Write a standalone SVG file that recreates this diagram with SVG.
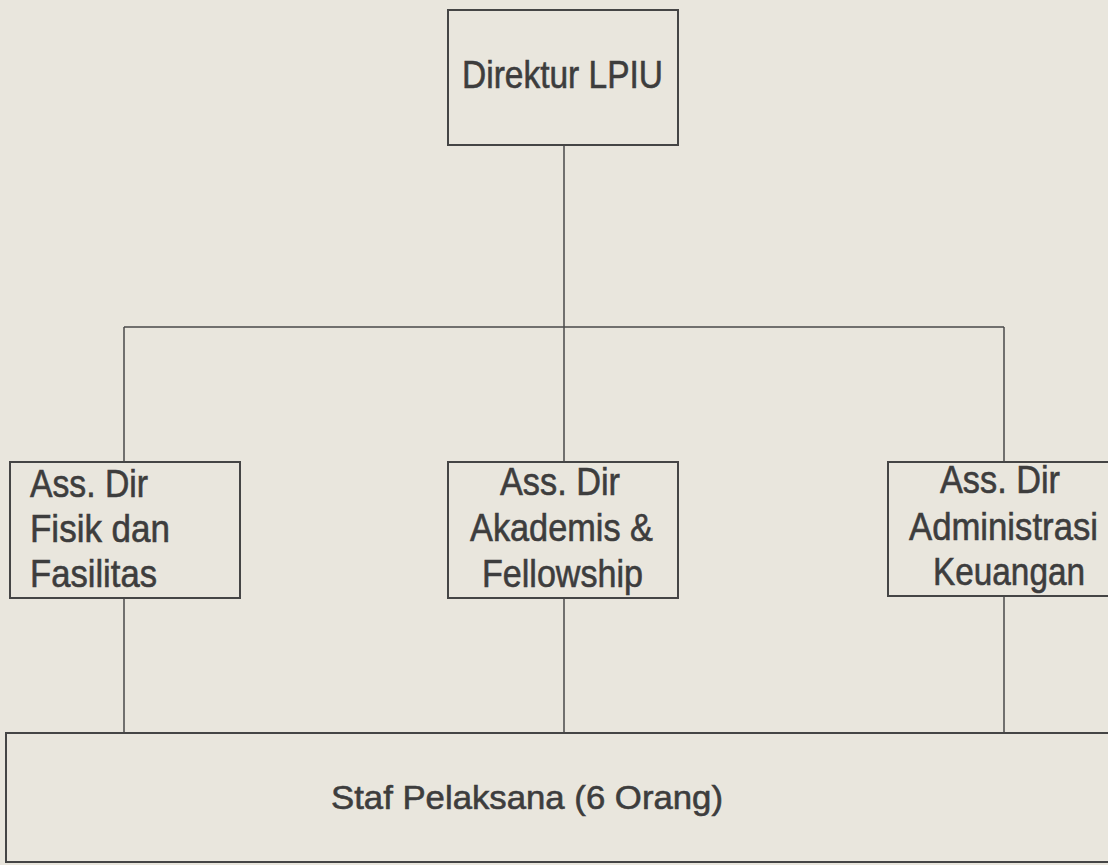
<svg xmlns="http://www.w3.org/2000/svg" width="1108" height="865" viewBox="0 0 1108 865">
<style>
.bg{fill:#e9e6dd}
.box{fill:none;stroke:#454545;stroke-width:2}
.ln{fill:none;stroke:#4a4a4a;stroke-width:1.5}
text{font-family:"Liberation Sans",Arial,sans-serif;fill:#3d3d3d;stroke:#3d3d3d;stroke-width:0.6;font-size:38px}
.s{font-size:34px}
</style>
<rect class="bg" x="0" y="0" width="1108" height="865"/>
<g id="connectors">
<path class="ln" d="M564,145 V327 M124,327 H1004 M124,327 V462 M564,327 V462 M1004,327 V462 M124,598 V733 M564,598 V733 M1004,596 V733"/>
</g>
<g id="direktur">
<rect class="box" x="448" y="10" width="230" height="135"/>
<text x="462" y="88" textLength="201" lengthAdjust="spacingAndGlyphs">Direktur LPIU</text>
</g>
<g id="fisik">
<rect class="box" x="10" y="462" width="230" height="136"/>
<text x="30" y="497" textLength="118" lengthAdjust="spacingAndGlyphs">Ass. Dir</text>
<text x="30" y="542" textLength="140" lengthAdjust="spacingAndGlyphs">Fisik dan</text>
<text x="30" y="587" textLength="127" lengthAdjust="spacingAndGlyphs">Fasilitas</text>
</g>
<g id="akademis">
<rect class="box" x="448" y="462" width="230" height="136"/>
<text x="500" y="495" textLength="120" lengthAdjust="spacingAndGlyphs">Ass. Dir</text>
<text x="470" y="541" textLength="183" lengthAdjust="spacingAndGlyphs">Akademis &amp;</text>
<text x="482" y="587" textLength="161" lengthAdjust="spacingAndGlyphs">Fellowship</text>
</g>
<g id="administrasi">
<rect class="box" x="888" y="462" width="240" height="134"/>
<text x="940" y="493" textLength="120" lengthAdjust="spacingAndGlyphs">Ass. Dir</text>
<text x="909" y="540" textLength="189" lengthAdjust="spacingAndGlyphs">Administrasi</text>
<text x="933" y="585" textLength="152" lengthAdjust="spacingAndGlyphs">Keuangan</text>
</g>
<g id="staf">
<rect class="box" x="6" y="733" width="1120" height="129"/>
<text class="s" x="331" y="809" textLength="392" lengthAdjust="spacingAndGlyphs">Staf Pelaksana (6 Orang)</text>
</g>
</svg>
